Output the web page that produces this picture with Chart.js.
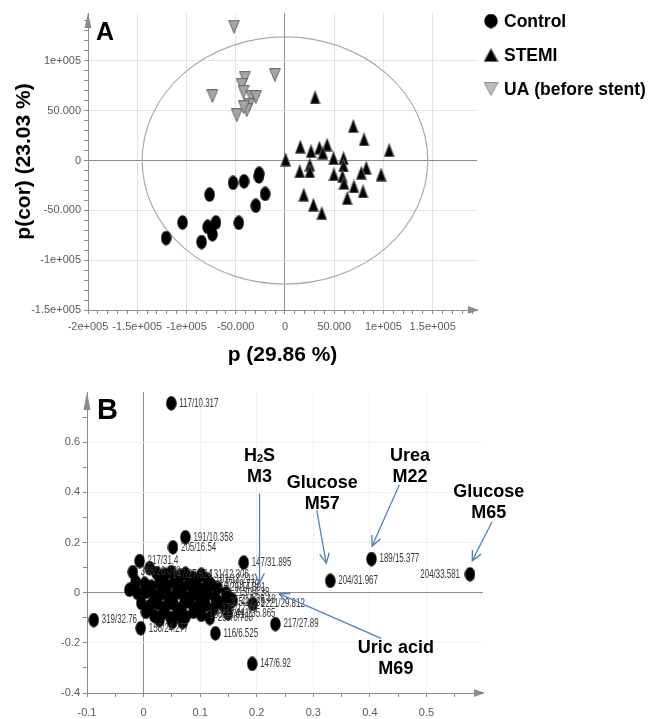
<!DOCTYPE html>
<html>
<head>
<meta charset="utf-8">
<script src="https://cdn.jsdelivr.net/npm/chart.js@4.4.1/dist/chart.umd.min.js"></script>
<style>
  html, body { margin: 0; padding: 0; background: #fff; }
  body { width: 654px; height: 719px; position: relative; overflow: hidden; }
  #boxA { position: absolute; left: 0; top: 0; width: 654px; height: 370px; }
  #boxB { position: absolute; left: 0; top: 372px; width: 654px; height: 347px; }
</style>
</head>
<body>
<div id="boxA"><canvas id="chartA"></canvas></div>
<div id="boxB"><canvas id="chartB"></canvas></div>
<script>
// ---- Panel A: OPLS-DA scores ----
const controlX = [-120700, -104000, -84700, -78500, -73700, -70100, -76500, -46900, -52700, -41500, -26200, -26500, -20100, -29600];
const controlY = [-77800, -62300, -81800, -66700, -74000, -62300, -34300, -62600, -22500, -20900, -13400, -16000, -33600, -45400];
const stemiX = [30600, 69400, 80300, 105800, 700, 15600, 26500, 35000, 42800, 38500, 49300, 59500, 59500, 25200, 15000, 25200, 49700, 58400, 59900, 82600, 77500, 97600, 70100, 79300, 63200, 19100, 28900, 37400];
const stemiY = [63300, 34600, 21200, 10400, 1000, 13800, 9400, 12800, 15900, 7800, 2300, 2300, -5000, -4300, -10800, -10800, -13800, -15900, -22500, -7400, -12400, -14100, -26000, -31000, -37700, -34300, -44400, -52800];
const uaX = [-51700, -10200, -73700, -40800, -43900, -42100, -34000, -29600, -36400, -38800, -49000, -41800];
const uaY = [134300, 85900, 64600, 82800, 75800, 68700, 63600, 63600, 55600, 50500, 45500, 53500];
const ellipseA = [145000, 124000]; // Hotelling T2 half axes

const xTicksA = [-200000, -150000, -100000, -50000, 0, 50000, 100000, 150000];
const xTickLabelsA = ['-2e+005', '-1.5e+005', '-1e+005', '-50.000', '0', '50.000', '1e+005', '1.5e+005'];
const yTicksA = [-150000, -100000, -50000, 0, 50000, 100000];
const yTickLabelsA = ['-1.5e+005', '-1e+005', '-50.000', '0', '50.000', '1e+005'];

// ---- Panel B: loadings ----
const peakX = [0.049, 0.074, 0.052, -0.007, 0.177, 0.102, -0.088, -0.005, 0.127, 0.192, 0.233, 0.149, 0.193, 0.330, 0.403, 0.577, 0.146, -0.019, 0.037, 0.113, 0.120, 0.131, 0.157, 0.138, 0.124, 0.117, 0.102];
const peakY = [0.755, 0.221, 0.181, 0.126, 0.120, 0.071, -0.109, -0.142, -0.162, -0.284, -0.125, -0.082, -0.045, 0.047, 0.134, 0.073, -0.002, 0.082, 0.071, 0.051, 0.031, 0.019, -0.029, -0.041, -0.065, -0.101, -0.089];
const peakLabel = ['117/10.317', '191/10.358', '205/16.54', '217/31.4', '147/31.895', '131/12.306', '319/32.76', '156/24.277', '116/6.525', '147/6.92', '217/27.89', '441/35.865', '2221/29.812', '204/31.967', '189/15.377', '204/33.581', '213/34.38', '368/26.078', '147/27.624', '103/13.221', '147/19.779', '129/14.891', '217/29.48', '205/22.35', '174/17.86', '255/6.788', '186/24.61'];
const clusterX = [0.011, 0.023, 0.049, 0.064, 0.074, 0.087,
  -0.014, 0.002, 0.014, 0.028, 0.042, 0.055, 0.069, 0.081, 0.095, 0.108,
  -0.025, -0.011, 0.004, 0.018, 0.030, 0.044, 0.058, 0.072, 0.085, 0.099, 0.113, 0.127,
  -0.004, 0.011, 0.025, 0.039, 0.053, 0.067, 0.081, 0.095, 0.110,
  0.004, 0.019, 0.034, 0.048, 0.060, 0.074, 0.088,
  0.028, 0.051, 0.069, 0.155, 0.143];
const clusterY = [0.098, 0.078, 0.082, 0.067, 0.075, 0.059,
  0.043, 0.035, 0.023, 0.039, 0.027, 0.043, 0.019, 0.035, 0.027, 0.015,
  0.011, -0.001, 0.003, -0.013, -0.005, -0.017, -0.001, -0.021, -0.009, -0.017, -0.005, -0.021,
  -0.041, -0.053, -0.041, -0.057, -0.045, -0.061, -0.037, -0.057, -0.049,
  -0.077, -0.093, -0.081, -0.101, -0.085, -0.097, -0.077,
  -0.109, -0.117, -0.117, -0.036, -0.056];

const xTicksB = [-0.1, 0, 0.1, 0.2, 0.3, 0.4, 0.5];
const xTickLabelsB = ['-0.1', '0', '0.1', '0.2', '0.3', '0.4', '0.5'];
const yTicksB = [-0.4, -0.2, 0, 0.2, 0.4, 0.6];
const yTickLabelsB = ['-0.4', '-0.2', '0', '0.2', '0.4', '0.6'];

// metabolite call-outs (text anchor + arrow, in data units)
const metName = ['H2S', 'Glucose', 'Urea', 'Glucose', 'Uric acid'];
const metId = ['M3', 'M57', 'M22', 'M65', 'M69'];
const metTextX = [0.205, 0.316, 0.471, 0.610, 0.446];
const metTextY = [0.546, 0.436, 0.546, 0.400, -0.222];
const metFrom = [[0.205, 0.395], [0.306, 0.329], [0.452, 0.429], [0.616, 0.283], [0.420, -0.182]];
const metTo = [[0.205, 0.038], [0.323, 0.117], [0.404, 0.186], [0.581, 0.127], [0.240, -0.005]];

const fontMain = '"Liberation Sans", Arial, sans-serif';
const fontTick = '"Liberation Sans Narrow", "Liberation Sans", Arial, sans-serif';

// ----------------------------------------------------
// marker images (points are slightly taller than wide)
// ----------------------------------------------------
function makeMarker(w, h, draw) {
    const c = document.createElement('canvas');
    c.width = w; c.height = h;
    draw(c.getContext('2d'), w, h);
    return c;
}
const dot = (w, h) => makeMarker(w, h, (g) => {
    g.fillStyle = '#000';
    g.beginPath();
    g.ellipse(w / 2, h / 2, w / 2 - 0.3, h / 2 - 0.3, 0, 0, Math.PI * 2);
    g.fill();
});
const triUp = (w, h) => makeMarker(w, h, (g) => {
    g.beginPath();
    g.moveTo(w / 2, 0.6); g.lineTo(w - 0.6, h - 0.6); g.lineTo(0.6, h - 0.6); g.closePath();
    g.fillStyle = '#000'; g.fill();
    g.strokeStyle = '#666'; g.lineWidth = 1; g.stroke();
});
const triDown = (w, h, fill, edge) => makeMarker(w, h, (g) => {
    g.beginPath();
    g.moveTo(0.6, 0.6); g.lineTo(w - 0.6, 0.6); g.lineTo(w / 2, h - 0.6); g.closePath();
    g.fillStyle = fill; g.fill();
    g.strokeStyle = edge; g.lineWidth = 1; g.stroke();
});

const dotA = dot(11, 15), triA = triUp(11, 14), uaA = triDown(12, 14, '#a5a5a5', '#666');
const dotB = dot(11, 15);
const legendMarks = [dot(14, 15), triUp(15, 14), triDown(15, 14, '#bdbdbd', '#8a8a8a')];

const pts = (xs, ys) => xs.map((x, i) => ({ x, y: ys[i] }));

// ----------------------------------------------------
// axis helpers: major labels + unlabelled minor ticks
// ----------------------------------------------------
function fillTicks(scale, majors, step, last) {
    const out = [];
    const n = Math.round((last - scale.min) / step);
    for (let i = 0; i <= n; i++) {
        const v = +(scale.min + i * step).toFixed(6);
        out.push({ value: v, main: majors.some(m => Math.abs(m - v) < step / 10) });
    }
    scale.ticks = out;
}

function linearAxis(o) {
    return {
        type: 'linear', min: o.min, max: o.max,
        afterBuildTicks: s => fillTicks(s, o.majors, o.step, o.last),
        afterFit: s => { if (s.isHorizontal()) s.height = o.size; else s.width = o.size; },
        border: { color: '#8c8c8c', width: 1 },
        grid: {
            color: c => {
                if (!c.tick) return 'rgba(0,0,0,0)';
                if (Math.abs(c.tick.value) < 1e-9) return '#8c8c8c';
                return c.tick.main ? o.gridColor : 'rgba(0,0,0,0)';
            },
            tickColor: '#8c8c8c', tickLength: 4, lineWidth: 1
        },
        ticks: {
            autoSkip: false, maxRotation: 0, padding: o.padding,
            color: '#5a5a5a', font: { family: fontTick, size: 11 },
            callback: v => {
                const k = o.majors.findIndex(m => Math.abs(m - v) < o.step / 10);
                return k < 0 ? '' : o.labels[k];
            }
        },
        title: o.title || { display: false }
    };
}

// ----------------------------------------------------
// shared plugins
// ----------------------------------------------------
const axisArrows = {
    id: 'axisArrows',
    afterDraw(chart, args, opts) {
        const { ctx, chartArea: a } = chart;
        ctx.save();
        ctx.fillStyle = '#8c8c8c';
        ctx.beginPath();
        ctx.moveTo(a.right + 2, a.bottom);
        ctx.lineTo(a.right - 9, a.bottom - 4);
        ctx.lineTo(a.right - 9, a.bottom + 4);
        ctx.fill();
        ctx.beginPath();
        ctx.moveTo(a.left, a.top);
        ctx.lineTo(a.left - 3.5, a.top + opts.len);
        ctx.lineTo(a.left + 3.5, a.top + opts.len);
        ctx.fill();
        ctx.restore();
    }
};

const panelTag = {
    id: 'panelTag',
    afterDraw(chart, args, o) {
        const { ctx, chartArea: a } = chart;
        ctx.save();
        ctx.font = `bold ${o.size}px ${fontMain}`;
        ctx.fillStyle = '#000';
        ctx.textBaseline = 'alphabetic';
        ctx.fillText(o.text, a.left + o.dx, a.top + o.dy);
        ctx.restore();
    }
};

// T2 ellipse for the score plot
const hotelling = {
    id: 'hotelling',
    beforeDatasetsDraw(chart) {
        const { ctx, scales: { x, y } } = chart;
        const cx = x.getPixelForValue(0), cy = y.getPixelForValue(0);
        const rx = x.getPixelForValue(ellipseA[0]) - cx;
        const ry = cy - y.getPixelForValue(ellipseA[1]);
        ctx.save();
        ctx.strokeStyle = '#ababab';
        ctx.lineWidth = 1.2;
        ctx.beginPath();
        ctx.ellipse(cx, cy, rx, ry, 0, 0, Math.PI * 2);
        ctx.stroke();
        ctx.restore();
    }
};

const legendA = {
    id: 'legendA',
    afterDraw(chart) {
        const { ctx, chartArea: a } = chart;
        ctx.save();
        ctx.font = `bold 17.5px ${fontMain}`;
        ctx.fillStyle = '#000';
        ctx.textBaseline = 'middle';
        chart.data.datasets.forEach((ds, i) => {
            const y = a.top + 8 + i * 34;
            const m = legendMarks[i];
            ctx.drawImage(m, a.right + 14 - m.width / 2, y - m.height / 2);
            ctx.fillText(ds.label, a.right + 27, y + 1);
        });
        ctx.restore();
    }
};

// peak labels (mass / retention time), squeezed like the original export
const peakLabels = {
    id: 'peakLabels',
    afterDatasetsDraw(chart) {
        const { ctx, chartArea: a } = chart;
        const meta = chart.getDatasetMeta(0);
        ctx.save();
        ctx.font = `12px ${fontMain}`;
        ctx.fillStyle = '#383838';
        ctx.textBaseline = 'middle';
        meta.data.forEach((p, i) => {
            const t = peakLabel[i];
            const w = ctx.measureText(t).width * 0.66;
            let x = p.x + 8;
            if (x + w > a.right) x = p.x - 10 - w;
            ctx.save();
            ctx.translate(x, p.y);
            ctx.scale(0.66, 1);
            ctx.fillText(t, 0, 0);
            ctx.restore();
        });
        ctx.restore();
    }
};

function arrow(ctx, x1, y1, x2, y2) {
    ctx.beginPath(); ctx.moveTo(x1, y1); ctx.lineTo(x2, y2); ctx.stroke();
    const ang = Math.atan2(y2 - y1, x2 - x1), h = 11;
    ctx.beginPath();
    ctx.moveTo(x2 - h * Math.cos(ang - 0.45), y2 - h * Math.sin(ang - 0.45));
    ctx.lineTo(x2, y2);
    ctx.lineTo(x2 - h * Math.cos(ang + 0.45), y2 - h * Math.sin(ang + 0.45));
    ctx.stroke();
}

const callouts = {
    id: 'callouts',
    afterDraw(chart) {
        const { ctx, scales: { x, y } } = chart;
        ctx.save();
        ctx.strokeStyle = '#4f81bd';
        ctx.lineWidth = 1.3;
        metFrom.forEach((f, i) => {
            arrow(ctx, x.getPixelForValue(f[0]), y.getPixelForValue(f[1]),
                x.getPixelForValue(metTo[i][0]), y.getPixelForValue(metTo[i][1]));
        });
        ctx.fillStyle = '#000';
        ctx.textBaseline = 'middle';
        metName.forEach((name, i) => {
            const cx = x.getPixelForValue(metTextX[i]);
            const cy = y.getPixelForValue(metTextY[i]);
            const big = `bold 18px ${fontMain}`, small = `bold 11px ${fontMain}`;
            if (name === 'H2S') {
                ctx.font = big;
                const wH = ctx.measureText('H').width, wS = ctx.measureText('S').width;
                ctx.font = small;
                const w2 = ctx.measureText('2').width;
                let sx = cx - (wH + w2 + wS) / 2;
                ctx.textAlign = 'left';
                ctx.font = big; ctx.fillText('H', sx, cy);
                ctx.font = small; ctx.fillText('2', sx + wH, cy + 3);
                ctx.font = big; ctx.fillText('S', sx + wH + w2, cy);
            } else {
                ctx.font = big;
                ctx.textAlign = 'center';
                ctx.fillText(name, cx, cy);
            }
            ctx.font = big;
            ctx.textAlign = 'center';
            ctx.fillText(metId[i], cx, cy + 21);
        });
        ctx.restore();
    }
};

// ----------------------------------------------------
// Panel A chart
// ----------------------------------------------------
new Chart(document.getElementById('chartA'), {
    type: 'scatter',
    data: {
        datasets: [
            { label: 'Control', data: pts(controlX, controlY), pointStyle: dotA, pointRadius: 6 },
            { label: 'STEMI', data: pts(stemiX, stemiY), pointStyle: triA, pointRadius: 6 },
            { label: 'UA (before stent)', data: pts(uaX, uaY), pointStyle: uaA, pointRadius: 6 }
        ]
    },
    options: {
        responsive: true,
        maintainAspectRatio: false,
        animation: false,
        layout: { padding: { left: 0, right: 177, top: 13, bottom: 0 } },
        plugins: {
            legend: { display: false },
            tooltip: { enabled: false },
            axisArrows: { len: 15 },
            panelTag: { text: 'A', size: 25, dx: 8, dy: 27 }
        },
        scales: {
            x: linearAxis({
                min: -200000, max: 195000, majors: xTicksA, labels: xTickLabelsA,
                step: 10000, last: 190000, size: 60, gridColor: '#e3e3e3', padding: 6,
                title: { display: true, text: 'p (29.86 %)', color: '#000',
                    font: { family: fontMain, size: 21, weight: 'bold' }, padding: { top: 0, bottom: 2 } }
            }),
            y: linearAxis({
                min: -150000, max: 148000, majors: yTicksA, labels: yTickLabelsA,
                step: 10000, last: 140000, size: 88, gridColor: '#e3e3e3', padding: 3,
                title: { display: true, text: 'p(cor) (23.03 %)', color: '#000',
                    font: { family: fontMain, size: 21, weight: 'bold' }, padding: { top: 12, bottom: 0 } }
            })
        }
    },
    plugins: [hotelling, axisArrows, panelTag, legendA]
});

// ----------------------------------------------------
// Panel B chart
// ----------------------------------------------------
new Chart(document.getElementById('chartB'), {
    type: 'scatter',
    data: {
        datasets: [
            { label: 'peaks', data: pts(peakX, peakY), pointStyle: dotB, pointRadius: 6 },
            { label: 'cluster', data: pts(clusterX, clusterY), pointStyle: dotB, pointRadius: 6 }
        ]
    },
    options: {
        responsive: true,
        maintainAspectRatio: false,
        animation: false,
        layout: { padding: { left: 0, right: 171, top: 20, bottom: 0 } },
        plugins: {
            legend: { display: false },
            tooltip: { enabled: false },
            axisArrows: { len: 18 },
            panelTag: { text: 'B', size: 29, dx: 10, dy: 27 }
        },
        scales: {
            x: linearAxis({
                min: -0.1, max: 0.6, majors: xTicksB, labels: xTickLabelsB,
                step: 0.05, last: 0.55, size: 26, gridColor: '#f1f1f1', padding: 9
            }),
            y: linearAxis({
                min: -0.4, max: 0.8, majors: yTicksB, labels: yTickLabelsB,
                step: 0.1, last: 0.7, size: 87, gridColor: '#f1f1f1', padding: 3
            })
        }
    },
    plugins: [axisArrows, panelTag, peakLabels, callouts]
});
</script>
</body>
</html>
